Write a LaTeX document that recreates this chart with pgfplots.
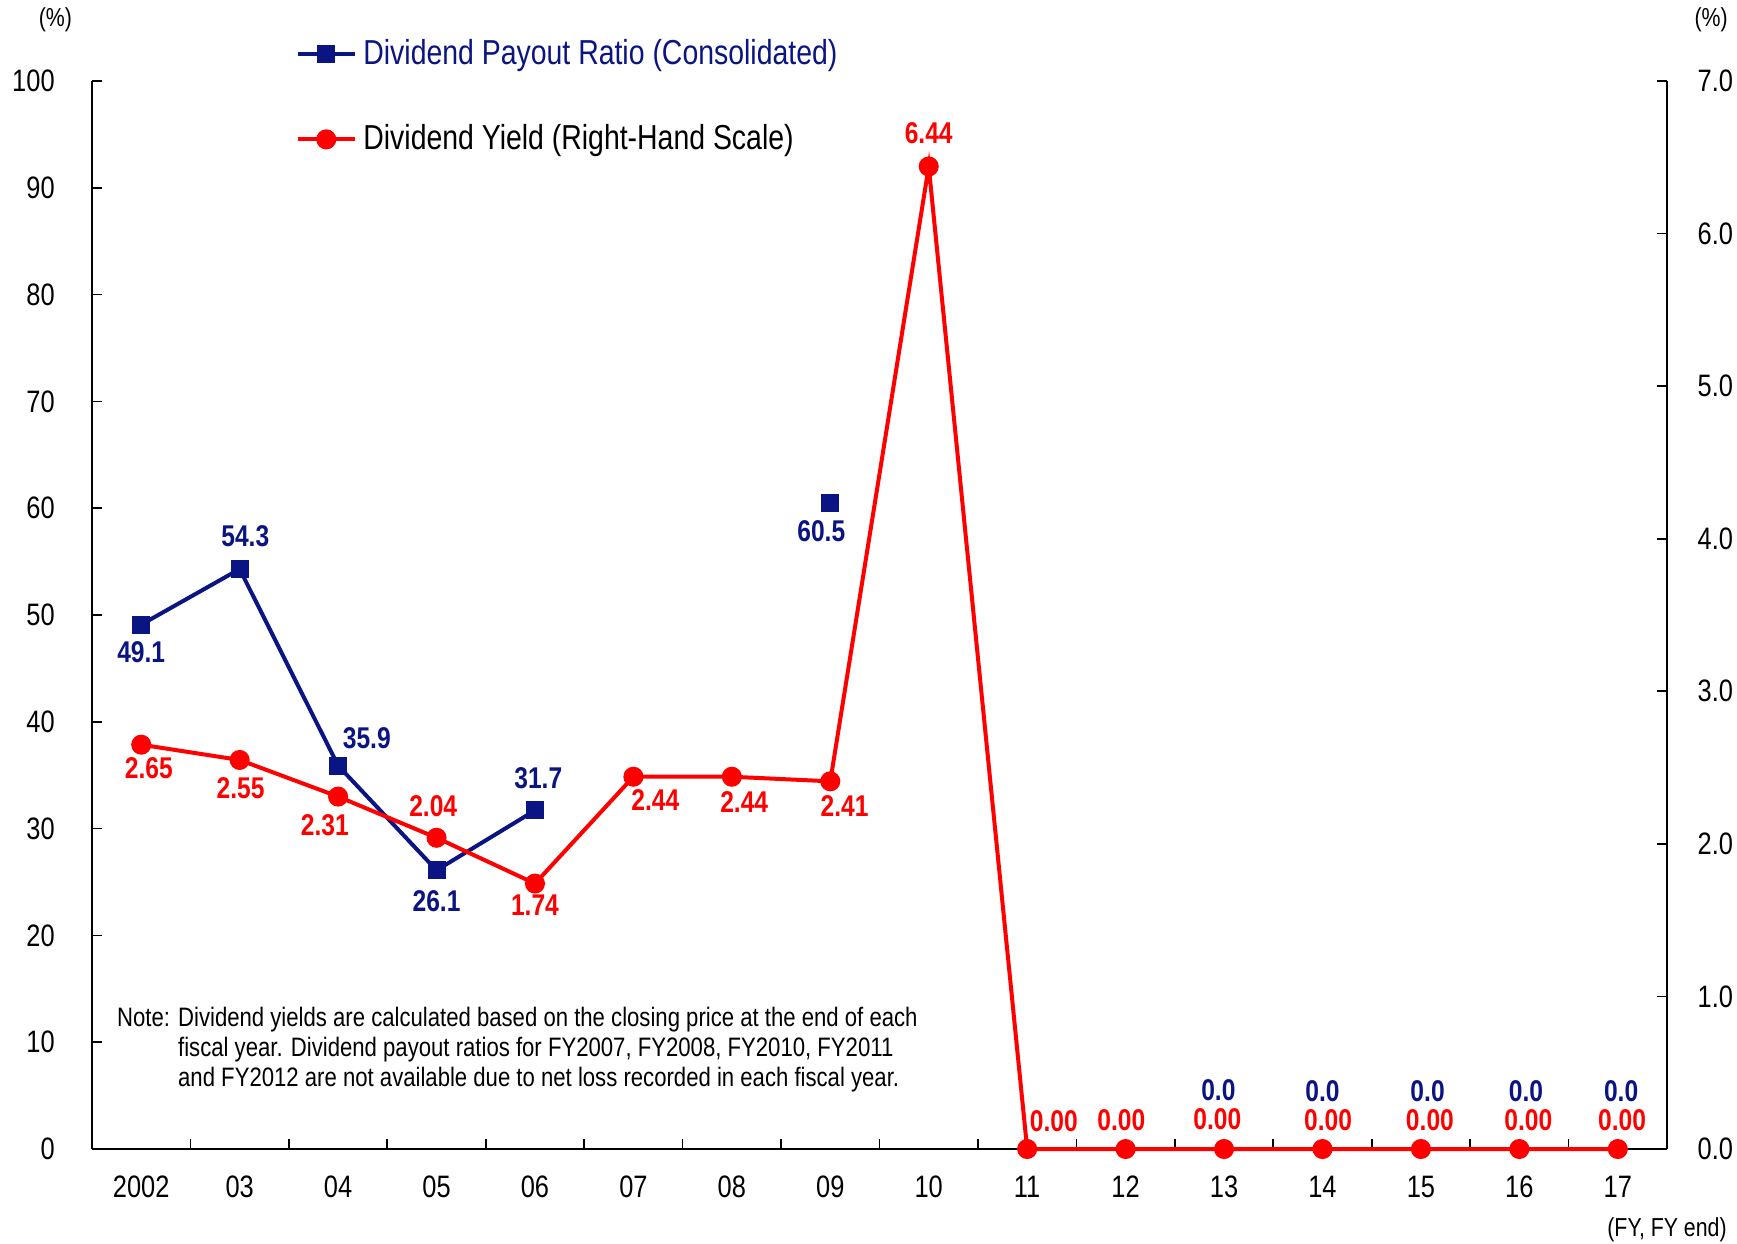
\documentclass[border=0pt]{standalone}
\usepackage{fontspec}
\setmainfont{Liberation Sans}[FakeStretch=0.82]
\newfontfamily\notefont{Liberation Sans}[FakeStretch=0.83]
\usepackage{pgfplots}
\usepackage{pgfplotstable}
\pgfplotsset{compat=1.18}
\definecolor{myblue}{RGB}{10,20,130}
\definecolor{myred}{RGB}{255,0,0}

\pgfplotstableread{
x y lab dx dy
0 49.1 49.1 0 -8.3
1 54.3 54.3 1.7 10
2 35.9 35.9 8.6 8.3
3 26.1 26.1 0 -9.3
4 31.7 31.7 1 9.6
5 nan x 0 0
6 nan x 0 0
7 60.5 60.5 -2.7 -8.6
8 nan x 0 0
9 nan x 0 0
10 nan x 0 0
11 0.0 0.0 -1.7 17.6
12 0.0 0.0 0 17.3
13 0.0 0.0 2 17.3
14 0.0 0.0 2 17.3
15 0.0 0.0 1 17.3
}\payout

\pgfplotstableread{
x y lab dx dy
0 2.65 2.65 2.3 -7
1 2.55 2.55 0.3 -8.6
2 2.31 2.31 -4 -8.6
3 2.04 2.04 -1 9.6
4 1.74 1.74 0 -6.5
5 2.44 2.44 6.6 -7
6 2.44 2.44 3.7 -7.6
7 2.41 2.41 4.3 -7.3
8 6.44 6.44 0 10
9 0.00 0.00 8 8.3
10 0.00 0.00 -1.3 8.6
11 0.00 0.00 -2 9.1
12 0.00 0.00 1.7 8.6
13 0.00 0.00 2.7 8.6
14 0.00 0.00 2.7 8.6
15 0.00 0.00 1.3 8.6
}\yield

\pgfplotsset{
  base/.style={
    scale only axis,
    width=472.5pt, height=320.4pt,
    xmin=-0.5, xmax=15.5,
    ymin=0,
    tick align=inside,
    major tick length=3pt,
    tick style={black, line width=0.5pt},
    axis line style={black, line width=0.6pt},
    /pgf/number format/assume math mode=true,
    tick label style={font=\fontsize{9.3}{11}\selectfont},
    unbounded coords=jump,
    clip=false,
  },
  lab/.style={
    point meta=explicit symbolic,
    nodes near coords,
    visualization depends on={\thisrow{dx} \as \dx},
    visualization depends on={\thisrow{dy} \as \dy},
    nodes near coords style={anchor=center, inner sep=0pt, xshift=\dx pt, yshift=\dy pt,
      font=\fontsize{9}{11}\selectfont\bfseries},
  },
}

\begin{document}
\begin{tikzpicture}
\begin{axis}[base,
  ymax=100,
  axis y line*=left,
  axis x line*=bottom,
  ytick={0,10,...,100},
  yticklabel style={anchor=east, inner sep=0pt, xshift=-11pt},
  xtick={-0.5,0.5,...,15.5},
  xticklabels={2002,03,04,05,06,07,08,09,10,11,12,13,14,15,16,17},
  x tick label as interval,
  xticklabel style={anchor=north, inner sep=0pt, yshift=-8pt},
  legend style={at={(0.129,1.046)}, anchor=north west, draw=none, fill=none,
    inner sep=0pt, font=\fontsize{10.4}{12}\selectfont,
    row sep=12.5pt},
  legend cell align=left,
]
\addplot[myblue, line width=1.2pt, mark=square*, mark size=2.1pt,
  mark options={solid}, lab, nodes near coords style={text=myblue},
  restrict x to domain=0:10]
  table[x=x, y=y, meta=lab] {\payout};
\addlegendentry{\textcolor{myblue}{Dividend Payout Ratio (Consolidated)}}
\addlegendimage{myred, line width=1.2pt, mark=*, mark size=2.4pt}
\addlegendentry{Dividend Yield (Right-Hand Scale)}
\addplot[draw=none, mark=none, lab, nodes near coords style={text=myblue},
  restrict x to domain=11:15, forget plot]
  table[x=x, y=y, meta=lab] {\payout};

\node[anchor=south, font=\fontsize{7.8}{9}\selectfont, inner sep=0pt] at (rel axis cs:-0.0232,1.045) {(\%)};
\node[anchor=south, font=\fontsize{7.8}{9}\selectfont, inner sep=0pt] at (rel axis cs:1.028,1.045) {(\%)};
\node[anchor=center, font=\fontsize{7.8}{9}\selectfont, inner sep=0pt] at (rel axis cs:1.0,-0.0757) {(FY, FY end)};
\node[anchor=north west, inner sep=0pt, font=\notefont\fontsize{8}{9}\selectfont] at (rel axis cs:0.0155,0.135)
  {\begin{tabular}{@{}l@{ }l@{}}
   Note: & Dividend yields are calculated based on the closing price at the end of each\\
         & fiscal year. Dividend payout ratios for FY2007, FY2008, FY2010, FY2011\\
         & and FY2012 are not available due to net loss recorded in each fiscal year.
   \end{tabular}};
\end{axis}

\begin{axis}[base,
  ymax=7,
  axis y line*=right,
  axis x line=none,
  ytick={0,1,...,7},
  yticklabel style={anchor=west, inner sep=0pt, xshift=9pt,
    /pgf/number format/fixed, /pgf/number format/fixed zerofill, /pgf/number format/precision=1},
]
\addplot[myred, line width=1.2pt, mark=*, mark size=2.4pt,
  mark options={solid}, lab, nodes near coords style={text=myred}]
  table[x=x, y=y, meta=lab] {\yield};
\end{axis}
\pgfresetboundingbox
\path[use as bounding box] (-27.6pt,-28.2pt) rectangle (493.5pt,344.7pt);
\end{tikzpicture}
\end{document}
